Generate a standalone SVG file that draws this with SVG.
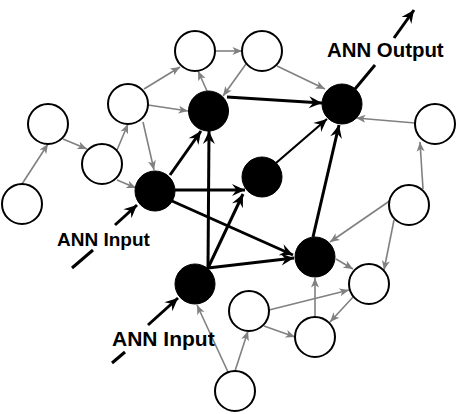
<svg xmlns="http://www.w3.org/2000/svg" width="457" height="414" viewBox="0 0 457 414">
<style>
.w{fill:#fff;stroke:#000;stroke-width:2}
.b{fill:#000;stroke:#000;stroke-width:1}
.g{stroke:#808080;stroke-width:1.6;fill:none;marker-end:url(#ag)}
.k{stroke:#000;stroke-width:3;fill:none;marker-end:url(#ak)}
.k2{stroke:#000;stroke-width:2.2;fill:none;marker-end:url(#ak)}
.kn{stroke:#000;stroke-width:3;fill:none}
.t{font-family:"Liberation Sans",Arial,sans-serif;font-weight:bold;fill:#000}
</style>
<defs>
<marker id="ak" markerUnits="userSpaceOnUse" viewBox="-14 -7 15 14" markerWidth="15" markerHeight="14" refX="0" refY="0" orient="auto">
<path d="M0,0 L-13,-6 L-8.5,0 L-13,6 Z" fill="#000"/>
</marker>
<marker id="ag" markerUnits="userSpaceOnUse" viewBox="-10 -5 11 10" markerWidth="11" markerHeight="10" refX="0" refY="0" orient="auto">
<path d="M0,0 L-9.5,-4 L-7,0 L-9.5,4 Z" fill="#808080"/>
</marker>
</defs>
<g id="connectors">
<line class="g" x1="22" y1="184" x2="48" y2="144"/>
<line class="g" x1="63" y1="139" x2="87" y2="149"/>
<line class="g" x1="117" y1="150" x2="128" y2="124"/>
<line class="g" x1="117" y1="180" x2="136" y2="188"/>
<line class="g" x1="144" y1="89" x2="180" y2="67"/>
<line class="g" x1="148" y1="105" x2="188" y2="111"/>
<line class="g" x1="143" y1="122" x2="154" y2="170"/>
<line class="g" x1="207" y1="91" x2="198" y2="71"/>
<line class="g" x1="215" y1="51" x2="242" y2="51"/>
<line class="g" x1="246" y1="64" x2="223" y2="96"/>
<line class="g" x1="277" y1="66" x2="325" y2="89"/>
<line class="g" x1="415" y1="123" x2="356" y2="118"/>
<line class="g" x1="423" y1="189" x2="420" y2="142"/>
<line class="g" x1="391" y1="200" x2="330" y2="242"/>
<line class="g" x1="394" y1="220" x2="384" y2="270"/>
<line class="g" x1="336" y1="259" x2="353" y2="269"/>
<line class="g" x1="354" y1="296" x2="330" y2="322"/>
<line class="g" x1="269" y1="310" x2="349" y2="290"/>
<line class="g" x1="264" y1="326" x2="295" y2="337"/>
<line class="g" x1="315" y1="317" x2="315" y2="278"/>
<line class="g" x1="235" y1="371" x2="248" y2="331"/>
<line class="g" x1="228" y1="372" x2="197" y2="305"/>
<line class="k" x1="170" y1="175" x2="201" y2="131"/>
<line class="k" x1="175" y1="190" x2="245" y2="190"/>
<line class="k" x1="172" y1="201" x2="293" y2="255"/>
<line class="k" x1="208" y1="268" x2="209" y2="131"/>
<line class="k" x1="208" y1="268" x2="243" y2="194"/>
<line class="k" x1="208" y1="268" x2="294" y2="258"/>
<line class="k" x1="227" y1="97" x2="322" y2="103"/>
<line class="k2" x1="276" y1="163" x2="327" y2="119"/>
<line class="k" x1="313" y1="237" x2="339" y2="125"/>
<line class="kn" x1="355" y1="89" x2="375" y2="65"/>
<line class="k" x1="394" y1="38" x2="414" y2="10"/>
<line class="kn" x1="72" y1="268" x2="93" y2="250"/>
<line class="k" x1="115" y1="225" x2="137" y2="205"/>
<line class="kn" x1="112" y1="363" x2="125" y2="352"/>
<line class="k" x1="148" y1="325" x2="178" y2="298"/>
</g>
<g id="W1"><circle class="w" cx="195" cy="51" r="20"/></g>
<g id="W2"><circle class="w" cx="262" cy="51" r="20"/></g>
<g id="W3"><circle class="w" cx="128" cy="104" r="20"/></g>
<g id="W4"><circle class="w" cx="48" cy="124" r="20"/></g>
<g id="W5"><circle class="w" cx="102" cy="164" r="20"/></g>
<g id="W6"><circle class="w" cx="22" cy="204" r="20"/></g>
<g id="W7"><circle class="w" cx="435" cy="124" r="20"/></g>
<g id="W8"><circle class="w" cx="409" cy="205" r="20"/></g>
<g id="W9"><circle class="w" cx="369" cy="284" r="20"/></g>
<g id="W10"><circle class="w" cx="249" cy="311" r="20"/></g>
<g id="W11"><circle class="w" cx="315" cy="337" r="20"/></g>
<g id="W12"><circle class="w" cx="235" cy="391" r="20"/></g>
<g id="B1"><circle class="b" cx="208.5" cy="111" r="20"/></g>
<g id="B2"><circle class="b" cx="342" cy="104" r="20"/></g>
<g id="B3"><circle class="b" cx="155" cy="191" r="20"/></g>
<g id="B4"><circle class="b" cx="262" cy="177" r="20"/></g>
<g id="B5"><circle class="b" cx="315" cy="257" r="20"/></g>
<g id="B6"><circle class="b" cx="195" cy="284" r="20"/></g>
<g id="labels">
<text class="t" x="57" y="246" font-size="19">ANN Input</text>
<text class="t" x="112" y="345.5" font-size="21">ANN Input</text>
<text class="t" x="327" y="57" font-size="20.4">ANN Output</text>
</g>
</svg>
